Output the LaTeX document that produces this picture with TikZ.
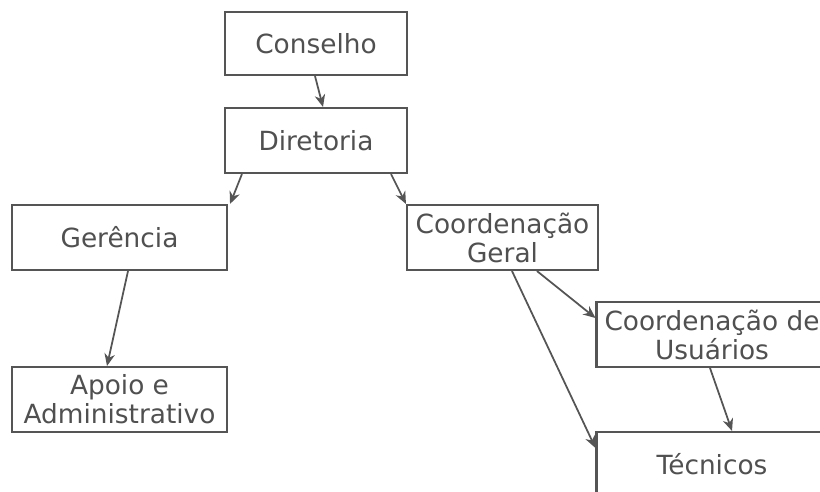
\documentclass[tikz,border=0pt]{standalone}
\usepackage{fontspec}
\setmainfont{DejaVu Sans}
\usetikzlibrary{calc,arrows.meta}
\definecolor{linegray}{HTML}{555555}
\definecolor{textgray}{HTML}{505050}
\begin{document}
\begin{tikzpicture}[x=0.02cm, y=-0.02cm,
    unit/.style={rectangle, draw=linegray, line width=1.2pt, fill=white, align=center, inner sep=0pt, text=textgray, font=\fontsize{15}{16.5}\selectfont},
    arrow/.style={->, >={Stealth[length=7pt, width=6pt]}, line width=1pt, draw=linegray}
]
    \useasboundingbox (0,0) rectangle (820,491);
    \clip (0,0) rectangle (820,491);
    % Units
    \node[unit, minimum width=3.64cm, minimum height=1.26cm] (cons) at (316, 43.5) {Conselho};
    \node[unit, minimum width=3.64cm, minimum height=1.3cm] (dir) at (316, 140.5) {Diretoria};
    \node[unit, minimum width=4.3cm, minimum height=1.3cm] (ger) at (119.5, 237.5) {Gerência};
    \node[unit, minimum width=4.3cm, minimum height=1.3cm] (apoio) at (119.5, 399.5) {Apoio e\\Administrativo};
    \node[unit, minimum width=3.82cm, minimum height=1.3cm] (cg) at (502.5, 237.5) {Coordenação\\Geral};
    \node[unit, minimum width=4.62cm, minimum height=1.3cm] (cu) at (712, 334.5) {Coordenação de\\Usuários};
    \node[unit, minimum width=4.62cm, minimum height=1.3cm] (tec) at (712, 464.5) {Técnicos};
    
    % Arrows
    \draw[arrow] ($(cons.south)+(-1,0)$) -- ($(dir.north)+(7,0)$);
    \draw[arrow] ($(dir.south west)+(18,0)$) -- ($(ger.north east)+(2,0)$);
    \draw[arrow] ($(dir.south east)+(-17,0)$) -- (cg.north west);
    \draw[arrow] ($(ger.south)+(8.5,0)$) -- ($(apoio.north)+(-12.5,0)$);
    \draw[arrow] ($(cg.south)+(34.5,0)$) -- ($(cu.west)+(0,-16.5)$);
    \draw[arrow] ($(cg.south)+(9.5,0)$) -- ($(tec.west)+(0,-16.5)$);
    \draw[arrow] ($(cu.south)+(-2,0)$) -- ($(tec.north)+(20,0)$);
\end{tikzpicture}
\end{document}
